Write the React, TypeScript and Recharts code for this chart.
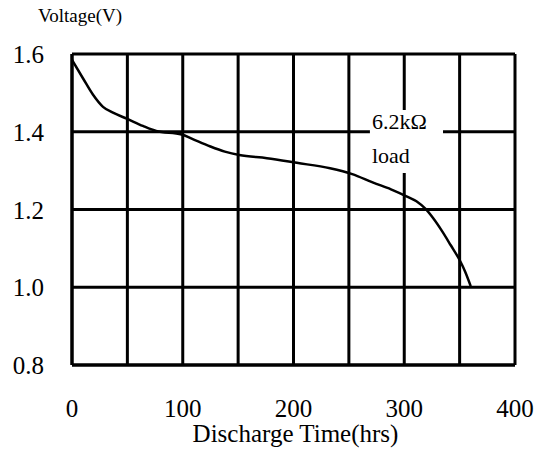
import { LineChart, Line, XAxis, YAxis, CartesianGrid, ReferenceArea } from 'recharts'

// discharge curve
const hours = [0, 10, 19, 28, 37, 50, 64, 76, 99, 109, 125, 138, 151, 176, 203, 233, 253, 272, 288, 302, 311, 319, 326, 334, 342, 350, 355, 360]
const volts = [1.585, 1.537, 1.495, 1.464, 1.449, 1.433, 1.415, 1.402, 1.393, 1.381, 1.362, 1.349, 1.34, 1.332, 1.32, 1.306, 1.291, 1.269, 1.252, 1.234, 1.221, 1.202, 1.178, 1.145, 1.108, 1.07, 1.04, 1.003]

const xTicks = [0, 50, 100, 150, 200, 250, 300, 350, 400]
const yTicks = [0.8, 1.0, 1.2, 1.4, 1.6]

const loadLabel = ['6.2kΩ', 'load']

const data = hours.map((h, i) => ({ h, v: volts[i] }))

const txt = { fontFamily: '"Liberation Serif", "DejaVu Serif", serif', fill: '#000' }

const XTick = ({ x, y, payload }: any) => {
  if (payload.value % 100 !== 0) return null
  return (
    <text x={x} y={y + 50} textAnchor="middle" style={{ ...txt, fontSize: 25 }}>
      {payload.value}
    </text>
  )
}

const YTick = ({ x, y, payload }: any) => (
  <text x={x - 26} y={y + 9} textAnchor="end" style={{ ...txt, fontSize: 25 }}>
    {payload.value.toFixed(1)}
  </text>
)

export default function App() {
  return (
    <div style={{ position: 'absolute', left: 0, top: 0, background: '#fff' }}>
      <LineChart width={547} height={450} data={data} margin={{ top: 54, right: 32, left: 0, bottom: 0 }}>
        <CartesianGrid stroke="#000" strokeWidth={3} />
        <XAxis
          dataKey="h"
          type="number"
          domain={[0, 400]}
          ticks={xTicks}
          interval={0}
          height={85}
          tickSize={0}
          tick={<XTick />}
          axisLine={{ stroke: '#000', strokeWidth: 3 }}
          label={({ viewBox }: any) => (
            <text x={viewBox.x + viewBox.width / 2 + 2} y={viewBox.y + 77} textAnchor="middle" style={{ ...txt, fontSize: 25 }}>
              Discharge Time(hrs)
            </text>
          )}
        />
        <YAxis
          type="number"
          domain={[0.8, 1.6]}
          ticks={yTicks}
          interval={0}
          width={72}
          tickSize={0}
          tick={<YTick />}
          axisLine={{ stroke: '#000', strokeWidth: 3 }}
          label={({ viewBox }: any) => (
            <text x={38} y={viewBox.y - 32} style={{ ...txt, fontSize: 19 }}>
              Voltage(V)
            </text>
          )}
        />
        <ReferenceArea
          x1={269}
          x2={335}
          y1={1.294}
          y2={1.456}
          fill="#fff"
          fillOpacity={1}
          stroke="none"
          label={({ viewBox }: any) => (
            <g>
              <text x={viewBox.x + 2} y={viewBox.y + 19} style={{ ...txt, fontSize: 22 }}>{loadLabel[0]}</text>
              <text x={viewBox.x + 2} y={viewBox.y + 53} style={{ ...txt, fontSize: 22 }}>{loadLabel[1]}</text>
            </g>
          )}
        />
        <Line type="monotone" dataKey="v" stroke="#000" strokeWidth={2.5} dot={false} isAnimationActive={false} />
      </LineChart>
    </div>
  )
}
